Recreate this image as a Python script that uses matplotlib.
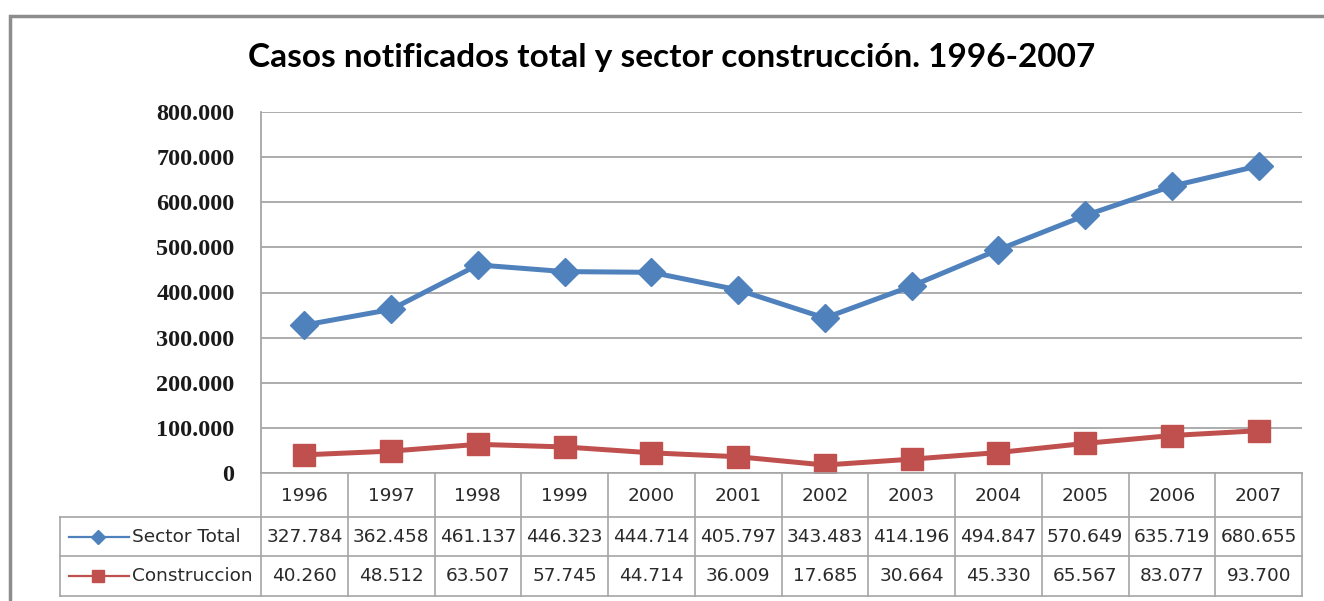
import matplotlib
matplotlib.use("Agg")
import matplotlib.pyplot as plt
from matplotlib.ticker import FuncFormatter, MultipleLocator
from matplotlib.patches import Rectangle

years = ["1996", "1997", "1998", "1999", "2000", "2001", "2002", "2003", "2004", "2005", "2006", "2007"]
sector_total = [327784, 362458, 461137, 446323, 444714, 405797, 343483, 414196, 494847, 570649, 635719, 680655]
construccion = [40260, 48512, 63507, 57745, 44714, 36009, 17685, 30664, 45330, 65567, 83077, 93700]
series_names = ["Sector Total", "Construccion"]
title = "Casos notificados total y sector construcción. 1996-2007"

BLUE = "#4F81BD"
RED = "#C0504D"
GRID = "#A6A6A6"

W, H = 1324, 601
fig = plt.figure(figsize=(W / 100, H / 100), dpi=100)
fig.patch.set_facecolor("white")

def fx(px):
    return px / W

def fy(py):
    return 1 - py / H

# outer frame
fig.add_artist(Rectangle((fx(10), fy(700)), fx(1400), fy(16) - fy(700), transform=fig.transFigure,
                         fill=False, edgecolor="#8C8C8C", linewidth=2.5))

L, R, T, B = 261, 1302, 112, 473
ax = fig.add_axes([fx(L), fy(B), fx(R) - fx(L), fy(T) - fy(B)])
n = len(years)
xs = list(range(n))
ax.plot(xs, sector_total, color=BLUE, lw=3.6, marker="D", ms=14, mfc=BLUE, mec=BLUE, zorder=3,
        solid_joinstyle="round")
ax.plot(xs, construccion, color=RED, lw=3.6, marker="s", ms=16, mfc=RED, mec=RED, zorder=3,
        solid_joinstyle="round")
ax.set_xlim(-0.5, n - 0.5)
ax.set_ylim(0, 800000)
ax.yaxis.set_major_locator(MultipleLocator(100000))
ax.yaxis.set_major_formatter(FuncFormatter(lambda v, p: "0" if v == 0 else f"{int(v):,}".replace(",", ".")))
ax.grid(axis="y", color=GRID, lw=1.3)
ax.set_axisbelow(True)
for s in ["top", "right", "bottom"]:
    ax.spines[s].set_visible(False)
ax.spines["left"].set_color(GRID)
ax.spines["left"].set_linewidth(1.3)
ax.set_xticks([])
ax.tick_params(axis="y", length=0, pad=19)
for lab in ax.get_yticklabels():
    lab.set_fontfamily("Liberation Serif")
    lab.set_fontsize(17.5)
    lab.set_fontweight("bold")
    lab.set_color("#1a1a1a")

fig.text(fx(672), fy(58), title, ha="center", va="center", fontsize=24, fontweight="bold",
         family="Lato", color="black")

# data table
tax = fig.add_axes([0, 0, 1, 1])
tax.set_xlim(0, W)
tax.set_ylim(H, 0)
tax.axis("off")
colw = (R - L) / n
rows_y = [473, 517, 556, 596]
TL = 60
lc = "#A6A6A6"
lw = 1.2
tax.plot([L, R], [rows_y[0], rows_y[0]], color=lc, lw=lw)
for yy in rows_y[1:]:
    tax.plot([TL, R], [yy, yy], color=lc, lw=lw)
for i in range(n + 1):
    xv = L + i * colw
    tax.plot([xv, xv], [rows_y[0], rows_y[-1]], color=lc, lw=lw)
tax.plot([TL, TL], [rows_y[1], rows_y[-1]], color=lc, lw=lw)

tf = dict(family="DejaVu Sans", fontsize=13.3, color="#2a2a2a", ha="center", va="center")
for i, yr in enumerate(years):
    tax.text(L + (i + 0.5) * colw, (rows_y[0] + rows_y[1]) / 2 + 1, yr, **tf)

def fmt(v):
    return f"{v:,}".replace(",", ".")

for r, (vals, name, col, mk, ms) in enumerate([(sector_total, series_names[0], BLUE, "D", 7),
                                                (construccion, series_names[1], RED, "s", 9)]):
    yc = (rows_y[r + 1] + rows_y[r + 2]) / 2
    for i, v in enumerate(vals):
        tax.text(L + (i + 0.5) * colw, yc, fmt(v), **tf)
    tax.plot([69, 129], [yc, yc], color=col, lw=1.6)
    tax.plot([98], [yc], marker=mk, ms=ms, color=col)
    tax.text(132, yc, name, family="DejaVu Sans", fontsize=13.3, color="#2a2a2a", ha="left", va="center")

fig.savefig("out.png", dpi=100)
